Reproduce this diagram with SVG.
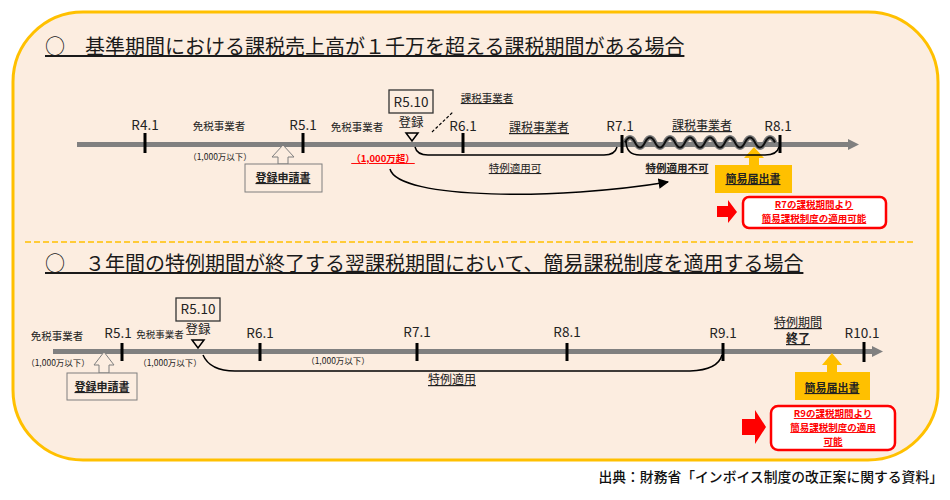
<svg xmlns="http://www.w3.org/2000/svg" width="950" height="500" viewBox="0 0 950 500">
<defs>
<style>
text{font-family:"Noto Sans CJK JP","Liberation Sans",sans-serif;fill:#222}
.t{font-size:20px;text-decoration:underline;fill:#1a1a1a}
.r{font-size:13.5px;text-anchor:middle}
.s{font-size:10.5px;text-anchor:middle}
.xs{font-size:8.5px;text-anchor:middle}
.u{text-decoration:underline}
.b{font-weight:bold}
.red{fill:#ff0000;font-weight:bold;text-decoration:underline;font-size:9.5px;text-anchor:middle}
.tick{stroke:#000;stroke-width:3}
.bar{fill:#808080}
.brk{fill:none;stroke:#000;stroke-width:1.5}
.gbox{fill:#fcede0;stroke:#7f7f7f;stroke-width:1}
.obox{fill:#ffc000}
.rbox{fill:#fff;stroke:#ff0000;stroke-width:2.5}
.rarr{fill:#ff0000}
</style>
<marker id="ah" viewBox="0 0 10 10" refX="9" refY="5" markerWidth="7" markerHeight="7" orient="auto">
<path d="M0,0 L10,5 L0,10 z" fill="#000"/>
</marker>
</defs>

<g id="frame">
<rect x="13" y="12" width="925" height="448" rx="70" ry="70" fill="#fcede0" stroke="#ffc000" stroke-width="3"/>
<line x1="25" y1="242" x2="915" y2="242" stroke="#ffc000" stroke-width="1.5" stroke-dasharray="6,3"/>
</g>

<g id="title1"><text class="t" x="45" y="54">○　基準期間における課税売上高が１千万を超える課税期間がある場合</text></g>
<g id="title2"><text class="t" x="45" y="271">○　３年間の特例期間が終了する翌課税期間において、簡易課税制度を適用する場合</text></g>

<!-- ===== Top timeline ===== -->
<g id="timeline1">
<rect class="bar" x="77" y="142" width="773" height="5"/>
<polygon class="bar" points="848,139 859,144.5 848,150"/>
<path d="M625,142.5 q5,-10 10,0 t10,0 t10,0 t10,0 t10,0 t10,0 t10,0 t10,0 t10,0 t10,0 t10,0 t10,0 t10,0 t10,0 t10,0" fill="none" stroke="#7a7a7a" stroke-width="5"/>
<path d="M625,142.5 q5,-10 10,0 t10,0 t10,0 t10,0 t10,0 t10,0 t10,0 t10,0 t10,0 t10,0 t10,0 t10,0 t10,0 t10,0 t10,0" fill="none" stroke="#111" stroke-width="2"/>
<line class="tick" x1="145" y1="133" x2="145" y2="153"/>
<line class="tick" x1="303" y1="133" x2="303" y2="153"/>
<line class="tick" x1="463" y1="133" x2="463" y2="153"/>
<line class="tick" x1="622" y1="135" x2="622" y2="153"/>
<line class="tick" x1="780" y1="135" x2="780" y2="153"/>
<text class="r" x="145" y="130">R4.1</text>
<text class="r" x="303" y="130">R5.1</text>
<text class="r" x="463" y="131">R6.1</text>
<text class="r" x="620" y="131">R7.1</text>
<text class="r" x="778" y="131">R8.1</text>
<text class="s" x="219" y="130">免税事業者</text>
<text class="xs" x="220" y="160">（1,000万以下）</text>
<text class="s" x="357" y="131">免税事業者</text>
<text class="b u" x="383" y="162" style="font-size:9.5px;text-anchor:middle;fill:#ff0000">（1,000万超）</text>
<text class="s u" x="539" y="132" style="font-size:12px">課税事業者</text>
<text class="s u" x="702" y="130" style="font-size:12px">課税事業者</text>
<text class="s u" x="515" y="172">特例適用可</text>
<text class="s u b" x="677" y="172">特例適用不可</text>
</g>

<g id="reg1">
<rect x="389" y="90" width="44" height="23" fill="none" stroke="#333" stroke-width="1.3"/>
<text class="r" x="411" y="107">R5.10</text>
<text class="r" x="411" y="127" style="font-size:12.5px">登録</text>
<polygon points="406,133 418,133 412,141" fill="none" stroke="#000" stroke-width="1.5"/>
<line x1="432" y1="132" x2="453" y2="112" stroke="#000" stroke-width="1.2" stroke-dasharray="3,2"/>
<text class="s u" x="487" y="102">課税事業者</text>
</g>

<g id="apply1">
<polygon class="gbox" points="283,145 294,157 288,157 288,164 278,164 278,157 272,157"/>
<rect class="gbox" x="245" y="164" width="77" height="28"/>
<text class="s u b" x="283" y="182" style="font-size:11px">登録申請書</text>
</g>

<g id="notice1">
<polygon class="obox" points="754,147 764,158 759,158 759,166 749,166 749,158 744,158"/>
<rect class="obox" x="715" y="165" width="77" height="28"/>
<text class="s u b" x="753" y="183" style="font-size:11px">簡易届出書</text>
</g>

<g id="result1">
<polygon class="rarr" points="717,206 728,206 728,200 737,212 728,223 728,217 717,217"/>
<rect class="rbox" x="743" y="197" width="143" height="31" rx="6"/>
<text class="red" x="814" y="208">R7の課税期間より</text>
<text class="red" x="814" y="222">簡易課税制度の適用可能</text>
</g>

<!-- ===== Bottom timeline ===== -->
<g id="timeline2">
<rect class="bar" x="53" y="349" width="821" height="5"/>
<polygon class="bar" points="872,346 883,351.5 872,357"/>
<line class="tick" x1="122" y1="343" x2="122" y2="361"/>
<line class="tick" x1="260" y1="343" x2="260" y2="361"/>
<line class="tick" x1="417" y1="343" x2="417" y2="361"/>
<line class="tick" x1="567" y1="343" x2="567" y2="361"/>
<line class="tick" x1="723" y1="343" x2="723" y2="361"/>
<line class="tick" x1="864" y1="342" x2="864" y2="362"/>
<text class="r" x="118" y="338">R5.1</text>
<text class="r" x="260" y="338">R6.1</text>
<text class="r" x="417" y="337">R7.1</text>
<text class="r" x="567" y="337">R8.1</text>
<text class="r" x="723" y="338">R9.1</text>
<text class="r" x="862" y="338">R10.1</text>
<text class="s" x="57" y="340">免税事業者</text>
<text class="s" x="160" y="338" style="font-size:9.5px">免税事業者</text>
<text class="xs" x="58" y="366">（1,000万以下）</text>
<text class="xs" x="170" y="366">（1,000万以下）</text>
<text class="xs" x="338" y="364">（1,000万以下）</text>
<text class="s u" x="452" y="384" style="font-size:12px">特例適用</text>
<text class="s u" x="798" y="327" style="font-size:12px">特例期間</text>
<text class="s u b" x="798" y="343" style="font-size:12px">終了</text>
</g>

<g id="reg2">
<rect x="176" y="298" width="44" height="23" fill="none" stroke="#333" stroke-width="1.3"/>
<text class="r" x="198" y="314">R5.10</text>
<text class="r" x="198" y="334" style="font-size:12.5px">登録</text>
<polygon points="192,340 204,340 198,348" fill="none" stroke="#000" stroke-width="1.5"/>
</g>

<g id="apply2">
<polygon class="gbox" points="104,352 114,365 109,365 109,373 99,373 99,365 94,365"/>
<rect class="gbox" x="67" y="373" width="70" height="27"/>
<text class="s u b" x="102" y="391" style="font-size:11px">登録申請書</text>
</g>

<g id="notice2">
<polygon class="obox" points="832,353 842,365 837,365 837,373 827,373 827,365 822,365"/>
<rect class="obox" x="795" y="372" width="75" height="28"/>
<text class="s u b" x="832" y="392" style="font-size:11px">簡易届出書</text>
</g>

<g id="result2">
<polygon class="rarr" points="742,419 755,419 755,410 766,427 755,444 755,435 742,435"/>
<rect class="rbox" x="771" y="406" width="124" height="44" rx="7"/>
<text class="red" x="833" y="417">R9の課税期間より</text>
<text class="red" x="833" y="431">簡易課税制度の適用</text>
<text class="red" x="833" y="445">可能</text>
</g>

<g id="connectors">
<path class="brk" d="M415,147 Q417,155 428,155 L604,155 Q615,155 617,147"/>
<path class="brk" d="M626,141 Q626,155 640,155 L765,155 Q777,155 779,147"/>
<path class="brk" d="M390,169 C398,200 560,200 668,182" marker-end="url(#ah)"/>
<path class="brk" d="M203,355 Q210,371 235,371 L690,371 Q718,370 722,355"/>
</g>

<g id="footer">
<text x="943" y="482" style="font-size:13.8px;text-anchor:end;fill:#111;font-weight:500">出典：財務省「インボイス制度の改正案に関する資料」</text>
</g>
</svg>
